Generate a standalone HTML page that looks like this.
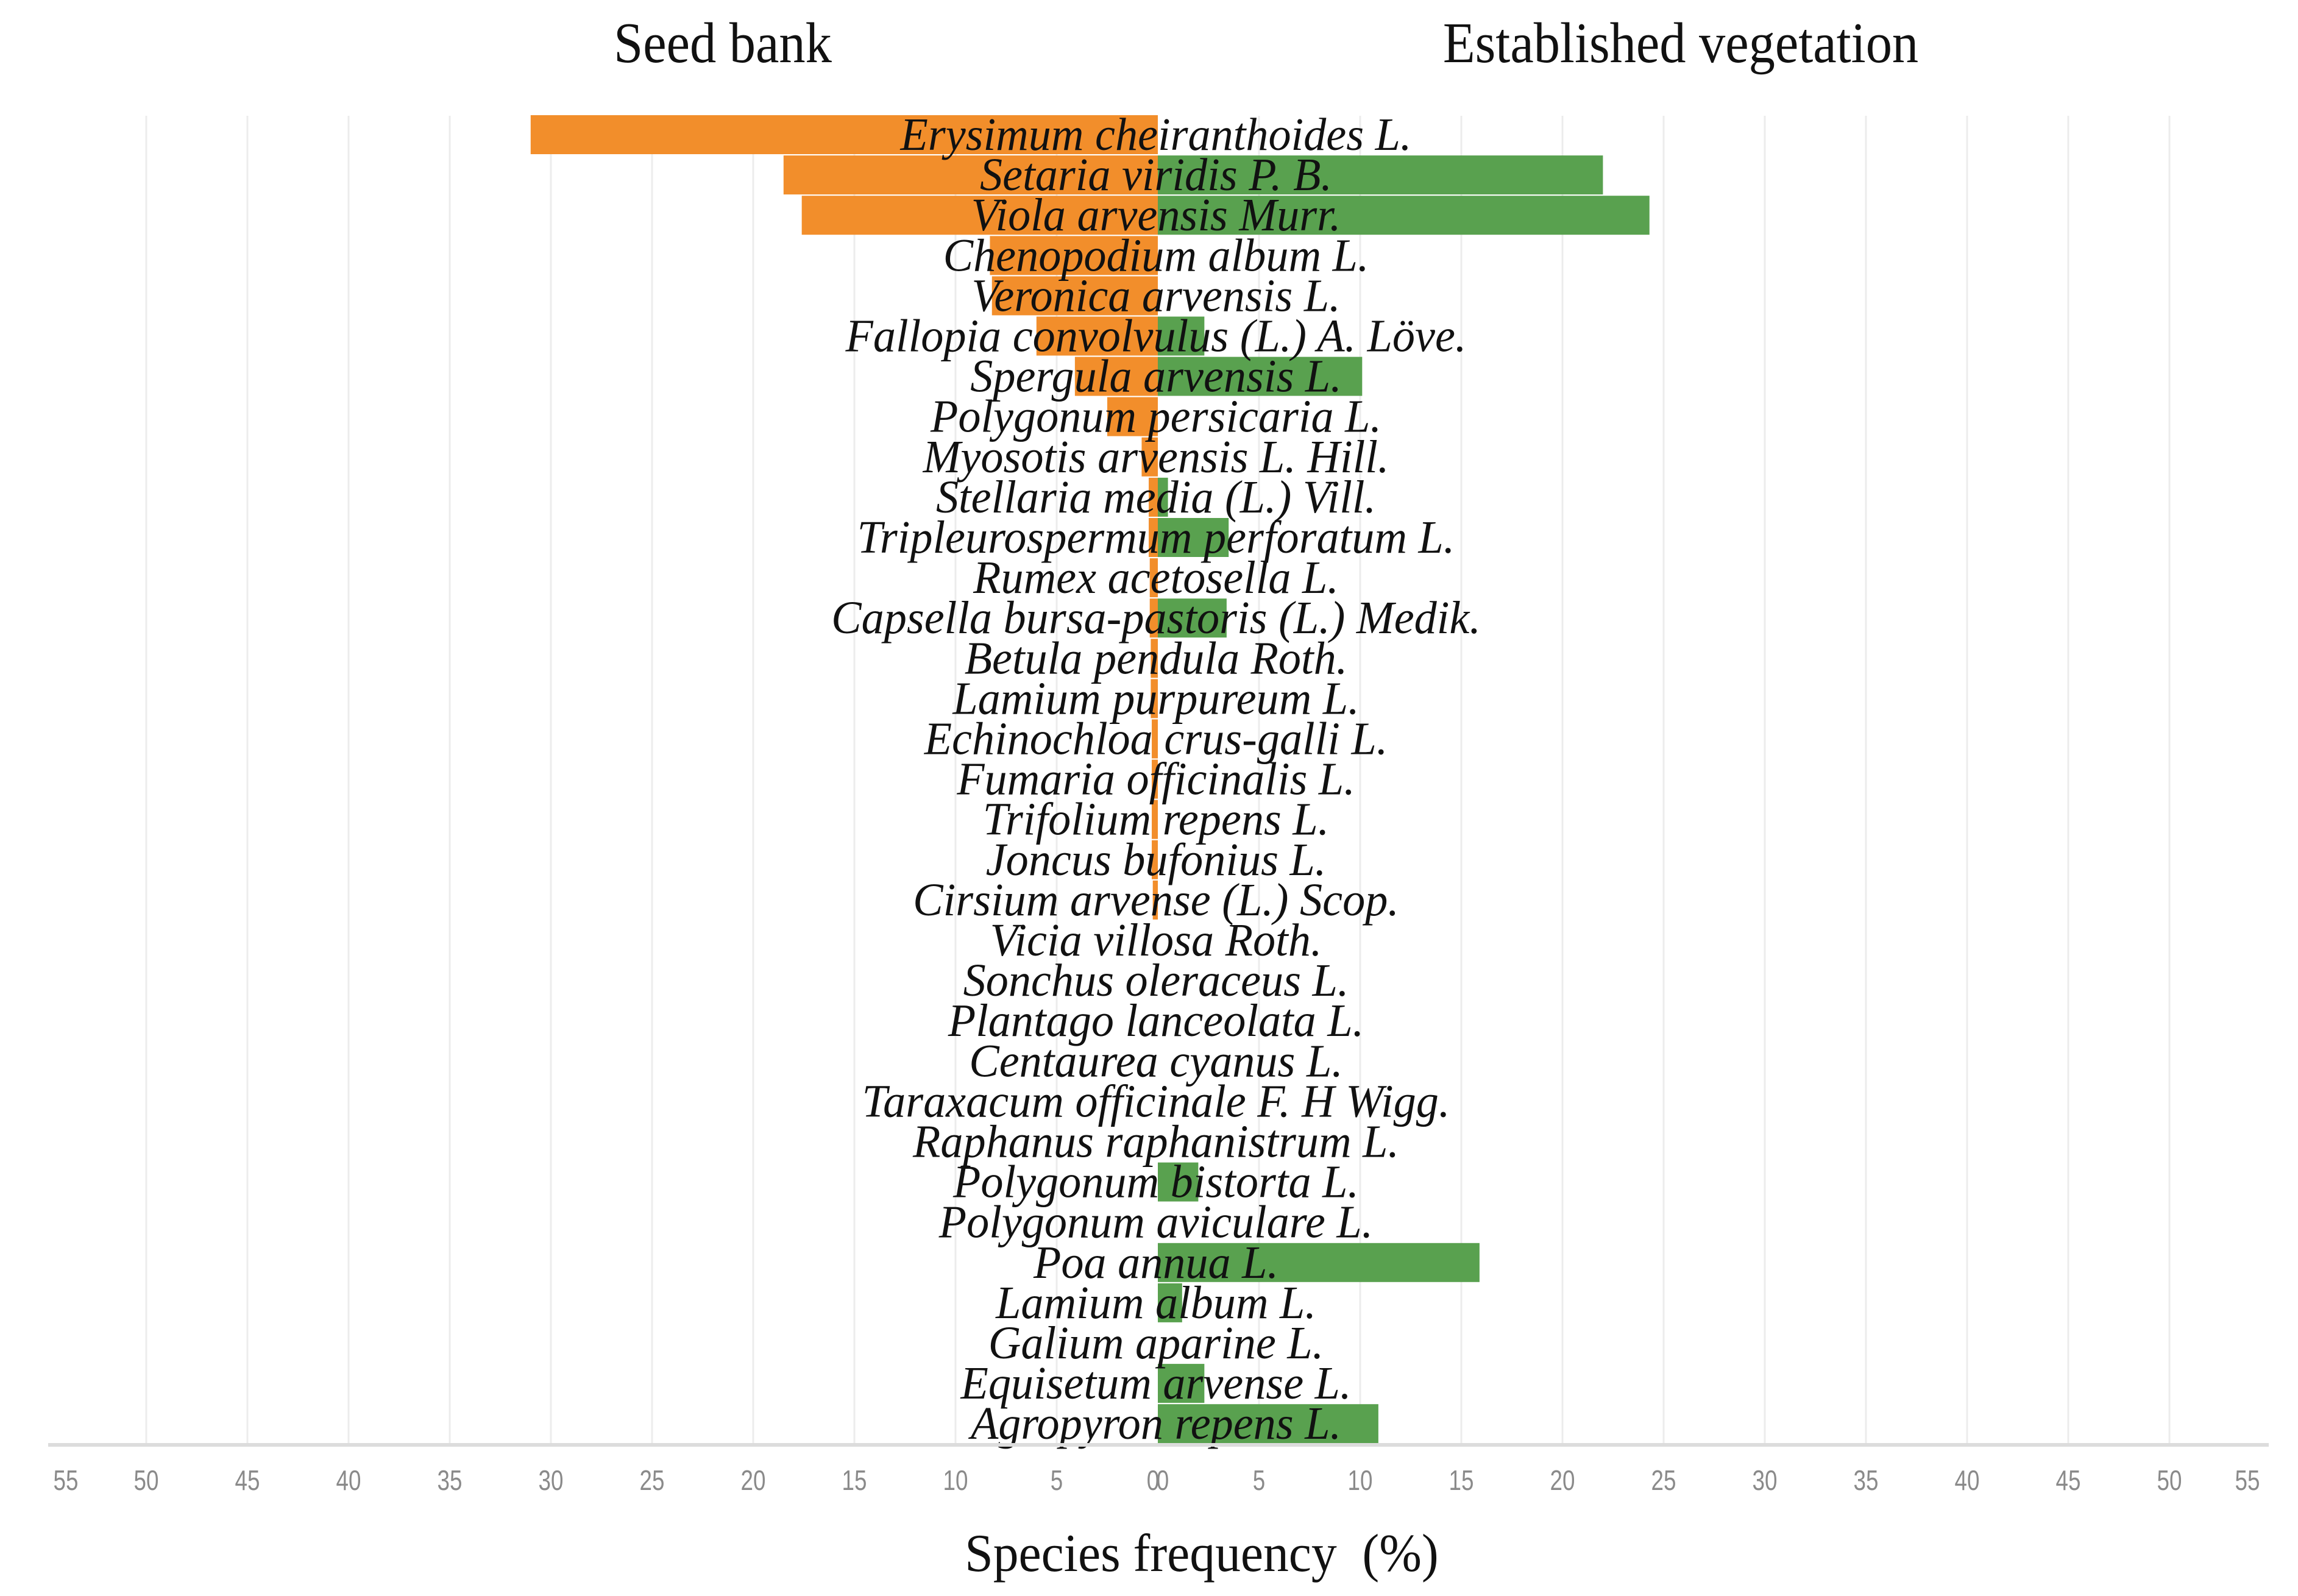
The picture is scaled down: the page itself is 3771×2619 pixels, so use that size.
<!DOCTYPE html>
<html><head><meta charset="utf-8"><style>
html,body{margin:0;padding:0;background:#fff;}
svg{display:block;}
</style></head><body>
<svg id="chart" width="3771" height="2619" viewBox="0 0 3771 2619" xmlns="http://www.w3.org/2000/svg">
<g id="grid"></g>
<g id="bars"></g>
<g id="labels"></g>
<g id="axis"></g>
<text transform="translate(1186,102) scale(0.92,1)" text-anchor="middle" font-family="Liberation Serif, serif" font-size="94" fill="#111">Seed bank</text>
<text transform="translate(2758,102) scale(0.92,1)" text-anchor="middle" font-family="Liberation Serif, serif" font-size="94" fill="#111">Established vegetation</text>
<text transform="translate(1972,2578) scale(0.95,1)" text-anchor="middle" font-family="Liberation Serif, serif" font-size="88" fill="#111" xml:space="preserve">Species frequency  (%)</text>
</svg>
<script>
const species = ["Erysimum cheiranthoides L.","Setaria viridis P. B.","Viola arvensis Murr.","Chenopodium album L.","Veronica arvensis L.","Fallopia convolvulus (L.) A. Löve.","Spergula arvensis L.","Polygonum persicaria L.","Myosotis arvensis L. Hill.","Stellaria media (L.) Vill.","Tripleurospermum perforatum L.","Rumex acetosella L.","Capsella bursa-pastoris (L.) Medik.","Betula pendula Roth.","Lamium purpureum L.","Echinochloa crus-galli L.","Fumaria officinalis L.","Trifolium repens L.","Joncus bufonius L.","Cirsium arvense (L.) Scop.","Vicia villosa Roth.","Sonchus oleraceus L.","Plantago lanceolata L.","Centaurea cyanus L.","Taraxacum officinale F. H Wigg.","Raphanus raphanistrum L.","Polygonum bistorta L.","Polygonum aviculare L.","Poa annua L.","Lamium album L.","Galium aparine L.","Equisetum arvense L.","Agropyron repens L."];
const seedBank = [31.0,18.5,17.6,8.3,8.2,6.0,4.1,2.5,0.8,0.45,0.45,0.4,0.4,0.35,0.35,0.3,0.3,0.3,0.3,0.25,0,0,0,0,0,0,0,0,0,0,0,0,0];
const vegetation = [0,22.0,24.3,0,0,2.3,10.1,0,0,0.5,3.5,0,3.4,0,0,0,0,0,0,0,0,0,0,0,0,0,2.0,0,15.9,1.2,0,2.3,10.9];
const tickValues = [55,50,45,40,35,30,25,20,15,10,5,0];
const gridValues = [50,45,40,35,30,25,20,15,10,5];

const NS="http://www.w3.org/2000/svg";
const X0=1900, UNIT=33.2, ROW0=221, ROWSTEP=66.1, BARH=64, PLOT_TOP=190, AXIS_Y=2371;
function xLeft(v){return X0 - v*UNIT;}
function xRight(v){return X0 + v*UNIT;}
function yRow(i){return ROW0 + i*ROWSTEP;}
function mk(tag, attrs, parent){const e=document.createElementNS(NS,tag);for(const k in attrs)e.setAttribute(k,attrs[k]);parent.appendChild(e);return e;}

const grid=document.getElementById('grid');
gridValues.forEach(v=>{
  [xLeft(v), xRight(v)].forEach(x=>{
    const l=mk('line',{x1:x,x2:x,y1:PLOT_TOP,y2:AXIS_Y,stroke:'#ececec','stroke-width':3},grid);
    
    
  });
});

const bars=document.getElementById('bars');
seedBank.forEach((v,i)=>{
  if(v<=0) return;
  const r=mk('rect',{x:xLeft(v),y:yRow(i)-BARH/2,width:v*UNIT,height:BARH,fill:'#f28e2b'},bars);
  
  
});
vegetation.forEach((v,i)=>{
  if(v<=0) return;
  const r=mk('rect',{x:X0,y:yRow(i)-BARH/2,width:v*UNIT,height:BARH,fill:'#59a14f'},bars);
  
  
});

const labels=document.getElementById('labels');
const textEls=[];
species.forEach((s,i)=>{
  const t=mk('text',{x:0,y:0,'text-anchor':'middle','font-family':'Liberation Serif, serif','font-style':'italic','font-size':76,fill:'#111'},labels);
  t.textContent=s;
  
  
  textEls.push(t);
});
let ratio=1;
try{const w=textEls[0].getComputedTextLength(); if(w>0) ratio=839/w;}catch(e){}
textEls.forEach((t,i)=>{
  t.setAttribute('transform','translate(1897,'+(yRow(i)+25)+') scale('+ratio+',1)');
});

const axis=document.getElementById('axis');
const al=mk('line',{x1:79,x2:3723,y1:AXIS_Y,y2:AXIS_Y,stroke:'#dcdcdc','stroke-width':6},axis);


tickValues.forEach(v=>{
  const lx = v===55 ? 108 : xLeft(v)-(v===0?8:0);
  const rx = v===55 ? 3688 : xRight(v)+(v===0?8:0);
  [[lx,'left'],[rx,'right']].forEach(([x,side])=>{
    const t=mk('text',{x:0,y:0,'text-anchor':'middle','font-family':'Liberation Sans, sans-serif','font-size':46,fill:'#8a8a8a',transform:'translate('+x+',2445) scale(0.8,1)'},axis);
    t.textContent=String(v);
    
    
  });
});
</script>
</body></html>
